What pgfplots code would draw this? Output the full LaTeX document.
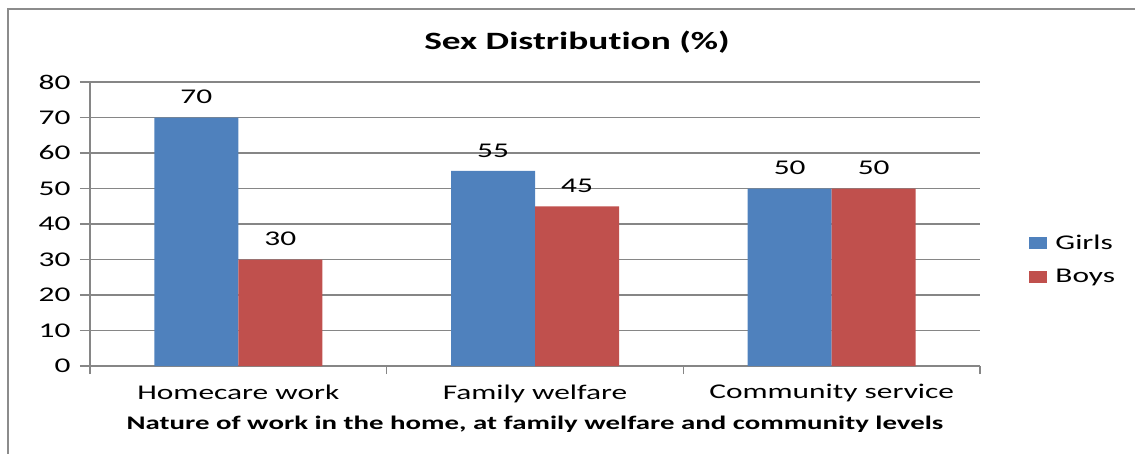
\documentclass[border=0pt]{standalone}
\usepackage{fontspec}
\setmainfont{Carlito}[FakeStretch=1.5, Ligatures=NoCommon]
\usepackage{pgfplots}
\pgfplotsset{compat=1.18}
\definecolor{girls}{HTML}{4F81BD}
\definecolor{boys}{HTML}{C0504D}
\definecolor{gridgray}{HTML}{868686}
\begin{document}
\begin{tikzpicture}
\useasboundingbox (-90bp,-88bp) rectangle (1045bp,366bp);
\draw[line width=2bp, color=gray!90] (-82bp,-120bp) -- (-82bp,357bp) -- (1100bp,357bp);
\begin{axis}[
  at={(0,0)}, anchor=south west,
  scale only axis, width=890bp, height=284bp,
  ybar=0pt, bar width=84bp,
  xmin=-0.5, xmax=2.5, ymin=0, ymax=80,
  xtick={0,1,2},
  xticklabels={Homecare work, Family welfare, Community service},
  minor xtick={-0.5,0.5,1.5,2.5},
  ytick={0,10,...,80},
  axis x line*=bottom, axis y line*=left,
  axis line style={gridgray, line width=1.5bp},
  every tick/.style={gridgray, line width=1.2bp},
  major tick length=10bp, minor tick length=8bp,
  tick align=outside,
  x tick style={draw=none},
  minor x tick style={draw=gridgray},
  ymajorgrids, grid style={gridgray, line width=1.2bp},
  /pgf/number format/assume math mode=true,
  tick label style={font=\fontsize{21}{23}\selectfont},
  yticklabel style={xshift=-6bp},
  xticklabel style={yshift=-5bp},
  xlabel={\bfseries Nature of work in the home, at family welfare and community levels},
  xlabel style={font=\fontsize{19.3}{21}\selectfont, yshift=-7bp},
  nodes near coords,
  nodes near coords style={font=\fontsize{21}{23}\selectfont, yshift=10bp},
  legend style={at={(1.052,0.375)}, anchor=west, draw=none, fill=none,
    font=\fontsize{21}{23}\selectfont, row sep=15bp},
  legend cell align=left,
  legend image code/.code={\fill[#1] (0bp,-6bp) rectangle (18bp,6bp);},
]
\addplot[fill=girls, draw=none] coordinates {(0,70) (1,55) (2,50)};
\addplot[fill=boys, draw=none] coordinates {(0,30) (1,45) (2,50)};
\legend{\hspace{6bp}Girls, \hspace{6bp}Boys}
\end{axis}
\node[font=\bfseries\fontsize{25}{28}\selectfont] at (487bp,324bp) {Sex Distribution (\%)};
\end{tikzpicture}
\end{document}
